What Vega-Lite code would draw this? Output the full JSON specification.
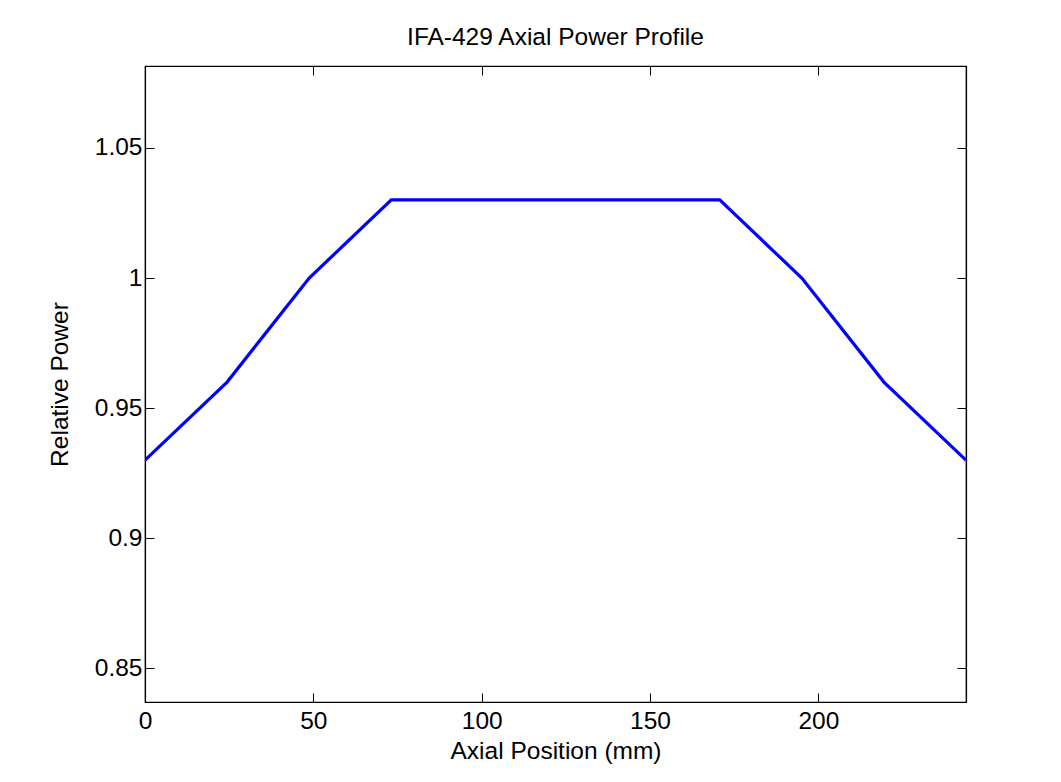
{
  "$schema": "https://vega.github.io/schema/vega-lite/v6.json",
  "autosize": {"type": "none"},
  "padding": {"left": 145, "top": 66, "right": 95, "bottom": 80},
  "width": 821,
  "height": 636,
  "background": "white",
  "title": {
    "text": "IFA-429 Axial Power Profile",
    "font": "Liberation Sans",
    "fontSize": 24.5,
    "fontWeight": "normal",
    "color": "black",
    "anchor": "middle",
    "frame": "group",
    "baseline": "alphabetic",
    "offset": -4
  },
  "config": {
    "view": {"stroke": "black", "strokeWidth": 1.2},
    "axis": {
      "grid": false,
      "labelFlush": false,
      "domainColor": "black",
      "domainWidth": 1.2,
      "tickColor": "black",
      "tickWidth": 1,
      "tickSize": -9,
      "labelFont": "Liberation Sans",
      "labelFontSize": 24.5,
      "labelColor": "black",
      "titleFont": "Liberation Sans",
      "titleFontSize": 24.5,
      "titleFontWeight": "normal",
      "titleColor": "black"
    }
  },
  "data": {
    "values": [
      {"position": 0, "power": 0.93},
      {"position": 24.384, "power": 0.96},
      {"position": 48.768, "power": 1.0},
      {"position": 73.152, "power": 1.03},
      {"position": 97.536, "power": 1.03},
      {"position": 121.92, "power": 1.03},
      {"position": 146.304, "power": 1.03},
      {"position": 170.688, "power": 1.03},
      {"position": 195.072, "power": 1.0},
      {"position": 219.456, "power": 0.96},
      {"position": 243.84, "power": 0.93}
    ]
  },
  "layer": [
    {
      "mark": {"type": "line", "color": "#0000ff", "strokeWidth": 3.2, "clip": true},
      "encoding": {
        "x": {
          "field": "position",
          "type": "quantitative",
          "scale": {"domain": [0, 243.84], "nice": false, "zero": false},
          "axis": {
            "orient": "bottom",
            "title": "Axial Position (mm)",
            "values": [0, 50, 100, 150, 200],
            "labelPadding": 16,
            "titlePadding": 7
          }
        },
        "y": {
          "field": "power",
          "type": "quantitative",
          "scale": {"domain": [0.837, 1.0815], "nice": false, "zero": false},
          "axis": {
            "orient": "left",
            "title": "Relative Power",
            "values": [0.85, 0.9, 0.95, 1, 1.05],
            "format": ".2~f",
            "labelPadding": 12,
            "titlePadding": 22
          }
        }
      }
    },
    {
      "mark": {"type": "line", "strokeOpacity": 0},
      "encoding": {
        "x": {
          "field": "position",
          "type": "quantitative",
          "axis": {"orient": "top", "title": null, "labels": false, "values": [0, 50, 100, 150, 200]}
        },
        "y": {
          "field": "power",
          "type": "quantitative",
          "axis": {"orient": "right", "title": null, "labels": false, "values": [0.85, 0.9, 0.95, 1, 1.05]}
        }
      }
    }
  ],
  "resolve": {"axis": {"x": "independent", "y": "independent"}}
}
